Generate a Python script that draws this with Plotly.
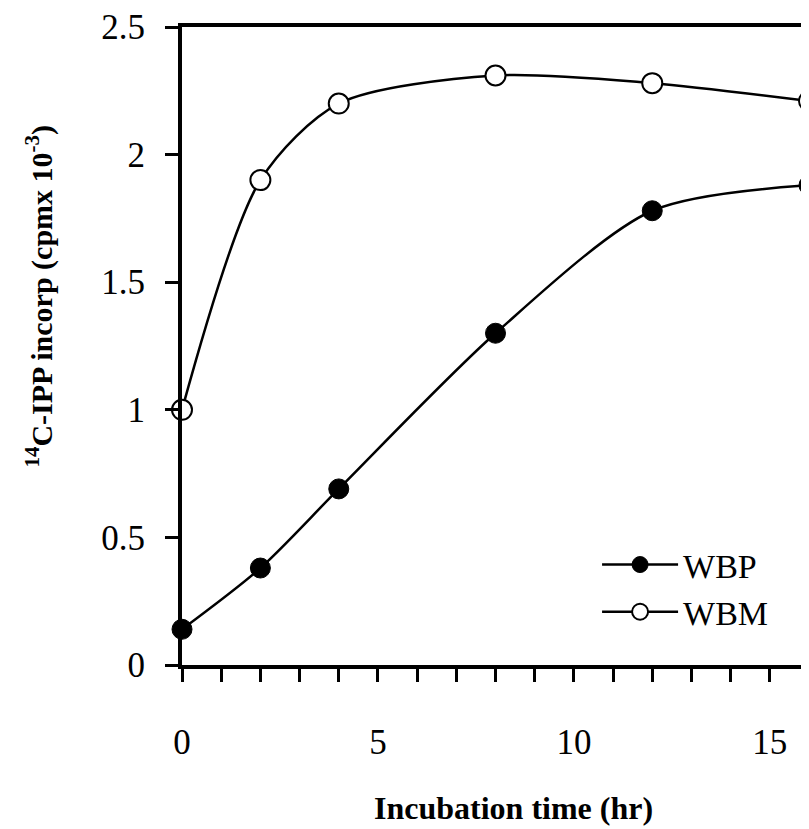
import plotly.graph_objects as go

time_hr = [0, 2, 4, 8, 12, 16]
wbp = [0.14, 0.38, 0.69, 1.30, 1.78, 1.88]
wbm = [1.00, 1.90, 2.20, 2.31, 2.28, 2.21]
x_tick_vals = [0, 5, 10, 15]
y_tick_vals = [0, 0.5, 1, 1.5, 2, 2.5]
y_tick_text = ["0", "0.5", "1", "1.5", "2", "2.5"]

FONT = "Liberation Serif"

fig = go.Figure()
fig.add_trace(go.Scatter(
    x=time_hr, y=wbp, name="WBP", mode="lines+markers",
    line=dict(color="black", width=2.5, shape="spline", smoothing=0.8),
    marker=dict(symbol="circle", size=20, color="black", line=dict(color="black", width=1)),
    cliponaxis=False,
))
fig.add_trace(go.Scatter(
    x=time_hr, y=wbm, name="WBM", mode="lines+markers",
    line=dict(color="black", width=2.5, shape="spline", smoothing=0.8),
    marker=dict(symbol="circle", size=20, color="white", line=dict(color="black", width=2)),
    cliponaxis=False,
))

fig.update_layout(
    width=801, height=821,
    margin=dict(l=174, r=0, t=19, b=164, pad=0),
    paper_bgcolor="white", plot_bgcolor="white",
    font=dict(family=FONT, color="black"),
    showlegend=True,
    legend=dict(
        x=0.662, y=0.12, xanchor="left", yanchor="middle",
        bgcolor="rgba(0,0,0,0)", borderwidth=0,
        font=dict(family=FONT, size=34, color="black"),
        itemwidth=76, tracegroupgap=0,
    ),
    xaxis=dict(
        range=[0, 16.0], showgrid=False, zeroline=False,
        showline=True, linecolor="black", linewidth=4, mirror=True,
        tickmode="array", tickvals=x_tick_vals,
        ticks="outside", ticklen=13, tickwidth=3, tickcolor="black",
        minor=dict(dtick=1, ticks="outside", ticklen=13, tickwidth=3, tickcolor="black", showgrid=False),
        tickfont=dict(family=FONT, size=35, color="black"),
        ticklabelstandoff=30,
    ),
    yaxis=dict(
        range=[0, 2.5], showgrid=False, zeroline=False,
        showline=True, linecolor="black", linewidth=4, mirror=False,
        tickmode="array", tickvals=y_tick_vals, ticktext=y_tick_text,
        ticks="outside", ticklen=13, tickwidth=3, tickcolor="black",
        tickfont=dict(family=FONT, size=35, color="black"),
        ticklabelstandoff=13,
    ),
    annotations=[
        dict(
            text="<b>Incubation time (hr)</b>", xref="paper", yref="paper",
            x=0.5295, y=-0.2234, xanchor="center", yanchor="middle", showarrow=False,
            font=dict(family=FONT, size=32, color="black"),
        ),
        dict(
            text="<b><sup>14</sup>C-IPP incorp (cpmx 10<sup>-3</sup>)</b>", xref="paper", yref="paper",
            x=-0.2265, y=0.579, xanchor="center", yanchor="middle", showarrow=False,
            textangle=-90, font=dict(family=FONT, size=30, color="black"),
        ),
    ],
)

fig.write_html("out.html")
